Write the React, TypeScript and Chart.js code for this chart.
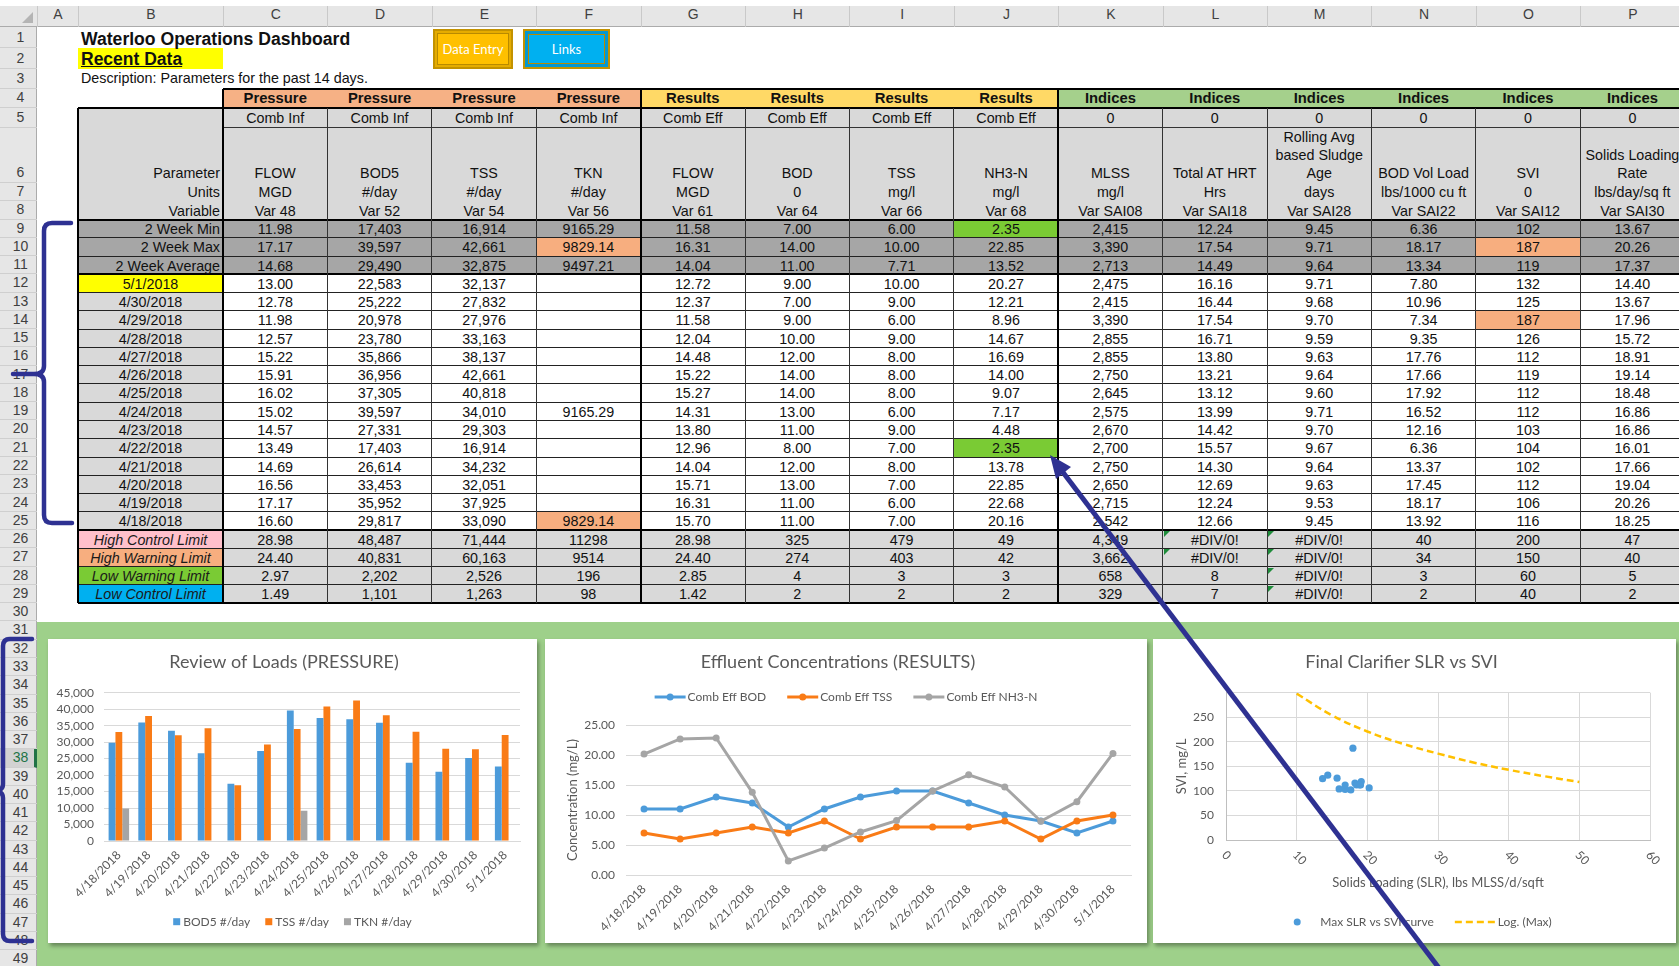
import React, { useEffect, useRef } from "react";
import { Chart, registerables } from "chart.js";

Chart.register(...registerables);

// ---------------- chart data ----------------
const dates = ["4/18/2018", "4/19/2018", "4/20/2018", "4/21/2018", "4/22/2018", "4/23/2018", "4/24/2018", "4/25/2018", "4/26/2018", "4/27/2018", "4/28/2018", "4/29/2018", "4/30/2018", "5/1/2018"];
const bod5Load = [29817, 35952, 33453, 26614, 17403, 27331, 39597, 37305, 36956, 35866, 23780, 20978, 25222, 22583];
const tssLoad = [33090, 37925, 32051, 34232, 16914, 29303, 34010, 40818, 42661, 38137, 33163, 27976, 27832, 32137];
const tknLoad = [9829.14, null, null, null, null, null, 9165.29, null, null, null, null, null, null, null];
const effBod = [11, 11, 13, 12, 8, 11, 13, 14, 14, 12, 10, 9, 7, 9];
const effTss = [7, 6, 7, 8, 7, 9, 6, 8, 8, 8, 9, 6, 9, 10];
const effNh3 = [20.16, 22.68, 22.85, 13.78, 2.35, 4.48, 7.17, 9.07, 14.0, 16.69, 14.67, 8.96, 12.21, 20.27];
const slrValues = [18.25, 20.26, 19.04, 17.66, 16.01, 16.86, 16.86, 18.48, 19.14, 18.91, 15.72, 17.96, 13.67, 14.4];
const sviValues = [116, 106, 112, 102, 104, 103, 112, 112, 119, 112, 126, 187, 125, 132];
const logTrendX = [10, 15, 20, 25, 30, 35, 40, 45, 50];
const logTrendY = [298, 254, 221, 196, 176, 158, 143, 130, 118];

// ---------------- table data ----------------
const columnLetters = ["A", "B", "C", "D", "E", "F", "G", "H", "I", "J", "K", "L", "M", "N", "O", "P"];
const bandLabels = ["Pressure", "Pressure", "Pressure", "Pressure", "Results", "Results", "Results", "Results", "Indices", "Indices", "Indices", "Indices", "Indices", "Indices"];
const subLabels = ["Comb Inf", "Comb Inf", "Comb Inf", "Comb Inf", "Comb Eff", "Comb Eff", "Comb Eff", "Comb Eff", "0", "0", "0", "0", "0", "0"];
const paramLines = [["FLOW"], ["BOD5"], ["TSS"], ["TKN"], ["FLOW"], ["BOD"], ["TSS"], ["NH3-N"], ["MLSS"], ["Total AT HRT"], ["Rolling Avg", "based Sludge", "Age"], ["BOD Vol Load"], ["SVI"], ["Solids Loading", "Rate"]];
const unitLabels = ["MGD", "#/day", "#/day", "#/day", "MGD", "0", "mg/l", "mg/l", "mg/l", "Hrs", "days", "lbs/1000 cu ft", "0", "lbs/day/sq ft"];
const varLabels = ["Var 48", "Var 52", "Var 54", "Var 56", "Var 61", "Var 64", "Var 66", "Var 68", "Var SAI08", "Var SAI18", "Var SAI28", "Var SAI22", "Var SAI12", "Var SAI30"];
const summaryLabels = ["2 Week Min", "2 Week Max", "2 Week Average"];
const summaryRows = [
  ["11.98", "17,403", "16,914", "9165.29", "11.58", "7.00", "6.00", "2.35", "2,415", "12.24", "9.45", "6.36", "102", "13.67"],
  ["17.17", "39,597", "42,661", "9829.14", "16.31", "14.00", "10.00", "22.85", "3,390", "17.54", "9.71", "18.17", "187", "20.26"],
  ["14.68", "29,490", "32,875", "9497.21", "14.04", "11.00", "7.71", "13.52", "2,713", "14.49", "9.64", "13.34", "119", "17.37"],
];
const dayLabels = ["5/1/2018", "4/30/2018", "4/29/2018", "4/28/2018", "4/27/2018", "4/26/2018", "4/25/2018", "4/24/2018", "4/23/2018", "4/22/2018", "4/21/2018", "4/20/2018", "4/19/2018", "4/18/2018"];
const dayRows = [
  ["13.00", "22,583", "32,137", "", "12.72", "9.00", "10.00", "20.27", "2,475", "16.16", "9.71", "7.80", "132", "14.40"],
  ["12.78", "25,222", "27,832", "", "12.37", "7.00", "9.00", "12.21", "2,415", "16.44", "9.68", "10.96", "125", "13.67"],
  ["11.98", "20,978", "27,976", "", "11.58", "9.00", "6.00", "8.96", "3,390", "17.54", "9.70", "7.34", "187", "17.96"],
  ["12.57", "23,780", "33,163", "", "12.04", "10.00", "9.00", "14.67", "2,855", "16.71", "9.59", "9.35", "126", "15.72"],
  ["15.22", "35,866", "38,137", "", "14.48", "12.00", "8.00", "16.69", "2,855", "13.80", "9.63", "17.76", "112", "18.91"],
  ["15.91", "36,956", "42,661", "", "15.22", "14.00", "8.00", "14.00", "2,750", "13.21", "9.64", "17.66", "119", "19.14"],
  ["16.02", "37,305", "40,818", "", "15.27", "14.00", "8.00", "9.07", "2,645", "13.12", "9.60", "17.92", "112", "18.48"],
  ["15.02", "39,597", "34,010", "9165.29", "14.31", "13.00", "6.00", "7.17", "2,575", "13.99", "9.71", "16.52", "112", "16.86"],
  ["14.57", "27,331", "29,303", "", "13.80", "11.00", "9.00", "4.48", "2,670", "14.42", "9.70", "12.16", "103", "16.86"],
  ["13.49", "17,403", "16,914", "", "12.96", "8.00", "7.00", "2.35", "2,700", "15.57", "9.67", "6.36", "104", "16.01"],
  ["14.69", "26,614", "34,232", "", "14.04", "12.00", "8.00", "13.78", "2,750", "14.30", "9.64", "13.37", "102", "17.66"],
  ["16.56", "33,453", "32,051", "", "15.71", "13.00", "7.00", "22.85", "2,650", "12.69", "9.63", "17.45", "112", "19.04"],
  ["17.17", "35,952", "37,925", "", "16.31", "11.00", "6.00", "22.68", "2,715", "12.24", "9.53", "18.17", "106", "20.26"],
  ["16.60", "29,817", "33,090", "9829.14", "15.70", "11.00", "7.00", "20.16", "2,542", "12.66", "9.45", "13.92", "116", "18.25"],
];
const limitLabels = ["High Control Limit", "High Warning Limit", "Low Warning Limit", "Low Control Limit"];
const limitRows = [
  ["28.98", "48,487", "71,444", "11298", "28.98", "325", "479", "49", "4,349", "#DIV/0!", "#DIV/0!", "40", "200", "47"],
  ["24.40", "40,831", "60,163", "9514", "24.40", "274", "403", "42", "3,662", "#DIV/0!", "#DIV/0!", "34", "150", "40"],
  ["2.97", "2,202", "2,526", "196", "2.85", "4", "3", "3", "658", "8", "#DIV/0!", "3", "60", "5"],
  ["1.49", "1,101", "1,263", "98", "1.42", "2", "2", "2", "329", "7", "#DIV/0!", "2", "40", "2"],
];

// ---------------- styling ----------------
const FONT = "Lato, 'Open Sans', 'Noto Sans', sans-serif";
const SHEET_FONT = "'Liberation Sans', Arial, Helvetica, sans-serif";
const TXT = "#595959";
const BLUE = "#4C9BDA";
const ORANGE = "#F97B16";
const GRAY = "#A5A5A5";
const GOLD = "#FFC000";
const GRID = "#D9D9D9";
const PRESSURE_BG = "#F6B185";
const RESULTS_BG = "#FFD966";
const INDICES_BG = "#A5D08C";
const HILITE_ORANGE = "#F7AE7F";
const HILITE_GREEN = "#7ACB34";
const PANEL_GREEN = "#9ED08A";
const NAVY = "#2E3192";

Chart.defaults.font.family = FONT;
Chart.defaults.color = TXT;

// ---------------- layout helpers ----------------
const RT: number[] = (() => {
  const t = [0, 27, 47.5, 68.5, 88.5, 108, 127.5, 182.5, 201, 219.5];
  for (let n = 10; n <= 51; n++) t[n] = 219.5 + (n - 9) * 18.27;
  return t;
})();
const cl = (k: number) => (k === 0 ? 37 : k === 1 ? 78 : 223 + (k - 2) * 104.4);

type LegendItem = { label: string; color: string; kind: "box" | "lineMarker" | "marker" | "dash" };
function makeLegend(cfg: { y: number; size: number; symbolW: number; gap: number; itemGap: number; items: LegendItem[] }) {
  return {
    id: "sheetLegend",
    afterDraw(chart: any) {
      const ctx = chart.ctx;
      ctx.save();
      ctx.font = `${cfg.size}px ${FONT}`;
      const widths = cfg.items.map((it) => cfg.symbolW + cfg.gap + ctx.measureText(it.label).width);
      const total = widths.reduce((a, b) => a + b, 0) + cfg.itemGap * (cfg.items.length - 1);
      let x = chart.width / 2 - total / 2;
      const y = cfg.y;
      cfg.items.forEach((it, i) => {
        ctx.fillStyle = it.color;
        ctx.strokeStyle = it.color;
        if (it.kind === "box") {
          ctx.fillRect(x, y - 3.5, cfg.symbolW, 7);
        } else if (it.kind === "lineMarker") {
          ctx.lineWidth = 3;
          ctx.beginPath();
          ctx.moveTo(x, y);
          ctx.lineTo(x + cfg.symbolW, y);
          ctx.stroke();
          ctx.beginPath();
          ctx.arc(x + cfg.symbolW / 2, y, 3.5, 0, Math.PI * 2);
          ctx.fill();
        } else if (it.kind === "marker") {
          ctx.beginPath();
          ctx.arc(x + cfg.symbolW / 2, y, 3.5, 0, Math.PI * 2);
          ctx.fill();
        } else {
          ctx.lineWidth = 2.5;
          ctx.setLineDash([7, 4]);
          ctx.beginPath();
          ctx.moveTo(x, y);
          ctx.lineTo(x + cfg.symbolW, y);
          ctx.stroke();
          ctx.setLineDash([]);
        }
        ctx.fillStyle = TXT;
        ctx.textAlign = "left";
        ctx.textBaseline = "middle";
        ctx.fillText(it.label, x + cfg.symbolW + cfg.gap, y + 0.5);
        x += widths[i] + cfg.itemGap;
      });
      ctx.restore();
    },
  };
}

const rotatedXLabels = {
  id: "rotatedXLabels",
  afterDraw(chart: any) {
    const s = chart.scales.x;
    const ctx = chart.ctx;
    ctx.save();
    ctx.fillStyle = TXT;
    ctx.font = `12px ${FONT}`;
    ctx.textAlign = "left";
    ctx.textBaseline = "middle";
    s.ticks.forEach((t: any) => {
      const px = s.getPixelForValue(t.value);
      ctx.save();
      ctx.translate(px - 2, s.top + 13);
      ctx.rotate(Math.PI / 4);
      ctx.fillText(String(t.value), 0, 0);
      ctx.restore();
    });
    ctx.restore();
  },
};

const titleOpts = (text: string, bottom: number) => ({
  display: true,
  text,
  color: TXT,
  font: { family: FONT, size: 18, weight: "normal" as const },
  padding: { top: 12.5, bottom },
});

function buildLoads(canvas: HTMLCanvasElement) {
  return new Chart(canvas, {
    type: "bar",
    data: {
      labels: dates,
      datasets: [
        { label: "BOD5 #/day", data: bod5Load, backgroundColor: BLUE, categoryPercentage: 0.69, barPercentage: 1 },
        { label: "TSS #/day", data: tssLoad, backgroundColor: ORANGE, categoryPercentage: 0.69, barPercentage: 1 },
        { label: "TKN #/day", data: tknLoad as any, backgroundColor: GRAY, categoryPercentage: 0.69, barPercentage: 1 },
      ],
    },
    options: {
      animation: false,
      responsive: false,
      layout: { padding: { left: 0, right: 17, top: 0, bottom: 32 } },
      plugins: {
        legend: { display: false },
        tooltip: { enabled: false },
        title: titleOpts("Review of Loads (PRESSURE)", 19.6),
      },
      scales: {
        x: {
          grid: { display: false, drawTicks: false },
          border: { display: true, color: GRID },
          ticks: { color: TXT, font: { family: FONT, size: 12 }, minRotation: 45, maxRotation: 45, autoSkip: false, padding: 7 },
          afterFit: (s: any) => { s.height = 70; },
        },
        y: {
          min: 0,
          max: 45000,
          grid: { color: GRID, drawTicks: false },
          border: { display: false },
          ticks: { stepSize: 5000, autoSkip: false, color: TXT, font: { family: FONT, size: 12 }, padding: 10, callback: (v: any) => Number(v).toLocaleString("en-US") },
          afterFit: (s: any) => { s.width = 56; },
        },
      },
    } as any,
    plugins: [
      makeLegend({
        y: 282.7, size: 12, symbolW: 7, gap: 3, itemGap: 15,
        items: [
          { label: "BOD5 #/day", color: BLUE, kind: "box" },
          { label: "TSS #/day", color: ORANGE, kind: "box" },
          { label: "TKN #/day", color: GRAY, kind: "box" },
        ],
      }),
    ],
  });
}

function buildEffluent(canvas: HTMLCanvasElement) {
  const line = (label: string, data: number[], color: string, order: number) => ({
    label, data, borderColor: color, backgroundColor: color, borderWidth: 3,
    pointRadius: 3.5, pointBackgroundColor: color, pointBorderWidth: 0, tension: 0, order,
  });
  return new Chart(canvas, {
    type: "line",
    data: {
      labels: dates,
      datasets: [
        line("Comb Eff BOD", effBod, BLUE, 3),
        line("Comb Eff TSS", effTss, ORANGE, 2),
        line("Comb Eff NH3-N", effNh3, GRAY, 1),
      ],
    },
    options: {
      animation: false,
      responsive: false,
      layout: { padding: { left: 0, right: 16, top: 0, bottom: 0 } },
      plugins: {
        legend: { display: false },
        tooltip: { enabled: false },
        title: titleOpts("Effluent Concentrations (RESULTS)", 51.9),
      },
      scales: {
        x: {
          offset: true,
          grid: { display: false, drawTicks: false, offset: true },
          border: { display: true, color: GRID },
          ticks: { color: TXT, font: { family: FONT, size: 12 }, minRotation: 45, maxRotation: 45, autoSkip: false, padding: 7 },
          afterFit: (s: any) => { s.height = 68; },
        },
        y: {
          min: 0,
          max: 25,
          grid: { color: GRID, drawTicks: false },
          border: { display: false },
          ticks: { stepSize: 5, autoSkip: false, color: TXT, font: { family: FONT, size: 12 }, padding: 11, callback: (v: any) => Number(v).toFixed(2) },
          title: { display: true, text: "Concentration (mg/L)", color: TXT, font: { family: FONT, size: 13 }, padding: { top: 20, bottom: 0 } },
          afterFit: (s: any) => { s.width = 81; },
        },
      },
    } as any,
    plugins: [
      makeLegend({
        y: 58, size: 12, symbolW: 31, gap: 2, itemGap: 21,
        items: [
          { label: "Comb Eff BOD", color: BLUE, kind: "lineMarker" },
          { label: "Comb Eff TSS", color: ORANGE, kind: "lineMarker" },
          { label: "Comb Eff NH3-N", color: GRAY, kind: "lineMarker" },
        ],
      }),
    ],
  });
}

function buildClarifier(canvas: HTMLCanvasElement) {
  const points = slrValues.map((x, i) => ({ x, y: sviValues[i] }));
  const trend = logTrendX.map((x, i) => ({ x, y: logTrendY[i] }));
  return new Chart(canvas, {
    type: "scatter",
    data: {
      datasets: [
        { label: "Max SLR vs SVI curve", data: points, pointRadius: 3.6, pointBackgroundColor: BLUE, pointBorderWidth: 0, showLine: false, order: 1 },
        { label: "Log. (Max)", data: trend, showLine: true, borderColor: GOLD, borderWidth: 2.5, borderDash: [7, 4], pointRadius: 0, tension: 0.4, order: 2 },
      ],
    },
    options: {
      animation: false,
      responsive: false,
      layout: { padding: { left: 0, right: 26, top: 0, bottom: 40 } },
      plugins: {
        legend: { display: false },
        tooltip: { enabled: false },
        title: titleOpts("Final Clarifier SLR vs SVI", 19.6),
      },
      scales: {
        x: {
          type: "linear",
          min: 0,
          max: 60,
          grid: { color: GRID, drawTicks: false },
          border: { display: true, color: "#BFBFBF" },
          ticks: { stepSize: 10, display: false },
          title: { display: true, text: "Solids Loading (SLR), lbs MLSS/d/sqft", color: TXT, font: { family: FONT, size: 13 }, padding: { top: 0, bottom: 12 } },
          afterFit: (s: any) => { s.height = 63; },
        },
        y: {
          min: 0,
          max: 300,
          grid: { color: GRID, drawTicks: false },
          border: { display: true, color: "#BFBFBF" },
          ticks: { stepSize: 50, autoSkip: false, color: TXT, font: { family: FONT, size: 12 }, padding: 12, callback: (v: any) => (Number(v) >= 300 ? "" : String(v)) },
          title: { display: true, text: "SVI, mg/L", color: TXT, font: { family: FONT, size: 13 }, padding: { top: 21, bottom: 0 } },
          afterFit: (s: any) => { s.width = 73; },
        },
      },
    } as any,
    plugins: [
      rotatedXLabels,
      makeLegend({
        y: 283, size: 12, symbolW: 40, gap: 3, itemGap: 21,
        items: [
          { label: "Max SLR vs SVI curve", color: BLUE, kind: "marker" },
          { label: "Log. (Max)", color: GOLD, kind: "dash" },
        ],
      }),
    ],
  });
}

function ChartBox({ left, top, width, height, build }: { left: number; top: number; width: number; height: number; build: (c: HTMLCanvasElement) => Chart }) {
  const ref = useRef<HTMLCanvasElement>(null);
  useEffect(() => {
    const chart = build(ref.current as HTMLCanvasElement);
    return () => chart.destroy();
  }, []);
  return (
    <div style={{ position: "absolute", left, top, width, height, background: "#fff", boxShadow: "2px 3px 4px rgba(0,0,0,0.35)" }}>
      <canvas ref={ref} width={width} height={height} style={{ display: "block", width, height }} />
    </div>
  );
}

function Sheet() {
  const els: any[] = [];
  let key = 0;
  const box = (x: number, y: number, w: number, h: number, style: any, content?: any) =>
    els.push(
      <div key={key++} style={{ position: "absolute", left: x, top: y, width: w, height: h, boxSizing: "border-box", ...style }}>
        {content}
      </div>
    );
  const fill = (k1: number, k2: number, r1: number, r2: number, color: string) =>
    box(cl(k1), RT[r1], cl(k2 + 1) - cl(k1), RT[r2 + 1] - RT[r1], { background: color });
  const hline = (x1: number, x2: number, y: number, t: number, c = "#000") => box(x1, y - t / 2, x2 - x1, t, { background: c });
  const vline = (x: number, y1: number, y2: number, t: number, c = "#000") => box(x - t / 2, y1, t, y2 - y1, { background: c });
  const textAt = (x: number, w: number, y: number, h: number, str: string, opts: any = {}) =>
    box(x, y + 1.5, w, h, {
      lineHeight: h + "px",
      textAlign: opts.align || "center",
      paddingLeft: opts.align === "left" ? 3 : 0,
      paddingRight: opts.align === "right" ? 3 : 0,
      whiteSpace: "nowrap",
      font: `${opts.italic ? "italic " : ""}${opts.bold ? "bold " : ""}${opts.size || 14.3}px ${SHEET_FONT}`,
      color: opts.color || "#111",
      textDecoration: opts.underline ? "underline" : "none",
      overflow: "visible",
    }, str);
  const text = (k: number, r: number, str: string, opts: any = {}) => {
    const x = cl(k);
    const w = cl(k + 1) - x;
    const y = RT[r];
    const h = RT[r + 1] - y;
    textAt(x, w, y, h, str, opts);
  };

  // column header strip
  box(0, 6, 1679, 21, { background: "#E6E6E6", borderBottom: "1px solid #ABABAB" });
  for (let k = 0; k < columnLetters.length; k++) {
    const x = cl(k);
    box(x, 6, cl(k + 1) - x, 21, { textAlign: "center", lineHeight: "21px", font: `14px ${SHEET_FONT}`, color: "#3F3F3F", borderLeft: "1px solid #C9C9C9" }, columnLetters[k]);
  }
  els.push(
    <div key={key++} style={{ position: "absolute", left: 22, top: 12, width: 0, height: 0, borderLeft: "11px solid transparent", borderBottom: "11px solid #B4B4B4" }} />
  );
  // row header strip
  box(0, 27, 37, 939, { background: "#E6E6E6", borderRight: "1px solid #ABABAB" });
  for (let r = 1; r <= 49; r++) {
    const y = RT[r];
    const h = RT[r + 1] - y;
    const sel = r === 38;
    box(0, y, 37, h, {
      background: sel ? "#D2D2D2" : "transparent",
      borderBottom: "1px solid #CFCFCF", borderRight: sel ? "3px solid #217346" : "none",
    });
    const lh = Math.min(h, 19);
    box(0, y + h - lh, 37, lh, {
      textAlign: "center", lineHeight: lh + "px", paddingLeft: 4, font: `14px ${SHEET_FONT}`,
      color: sel ? "#217346" : "#3F3F3F",
    }, String(r));
  }

  // green panel
  box(37, 622, 1679 - 37, 966 - 622, { background: PANEL_GREEN });

  // title area
  fill(1, 1, 2, 2, "#FFFF00");
  text(1, 1, "Waterloo Operations Dashboard", { align: "left", bold: true, size: 17.6 });
  text(1, 2, "Recent Data", { align: "left", bold: true, size: 17.5, underline: true });
  text(1, 3, "Description: Parameters for the past 14 days.", { align: "left" });

  // buttons
  els.push(
    <div key={key++} style={{ position: "absolute", left: 433, top: 29, width: 80, height: 40, boxSizing: "border-box", background: "#FFC000", border: "2px solid #C39200", boxShadow: "inset 0 0 0 2px #E5AC00, inset 0 0 0 3px #B88A00", color: "#fff", font: `13px ${FONT}`, display: "flex", alignItems: "center", justifyContent: "center" }}>Data Entry</div>
  );
  els.push(
    <div key={key++} style={{ position: "absolute", left: 523, top: 29, width: 87, height: 40, boxSizing: "border-box", background: "#00B0F0", border: "2px solid #C39200", boxShadow: "inset 0 0 0 3px #0598CF, inset 0 0 0 4px #B88A00", color: "#fff", font: `13px ${FONT}`, display: "flex", alignItems: "center", justifyContent: "center" }}>Links</div>
  );

  // backgrounds
  for (let i = 0; i < 14; i++) {
    const k = i + 2;
    fill(k, k, 4, 4, i < 4 ? PRESSURE_BG : i < 8 ? RESULTS_BG : INDICES_BG);
  }
  fill(1, 15, 5, 8, "#D9D9D9");
  fill(1, 15, 9, 11, "#A6A6A6");
  fill(1, 1, 12, 25, "#D9D9D9");
  fill(1, 1, 12, 12, "#FFFF00");
  fill(2, 15, 12, 25, "#FFFFFF");
  fill(2, 15, 26, 29, "#D9D9D9");
  const limitColors = ["#FFC0CB", HILITE_ORANGE, HILITE_GREEN, "#00B0F0"];
  limitColors.forEach((c, i) => fill(1, 1, 26 + i, 26 + i, c));
  const highlights = [
    { r: 10, i: 3, c: HILITE_ORANGE }, { r: 9, i: 7, c: HILITE_GREEN }, { r: 10, i: 12, c: HILITE_ORANGE },
    { r: 25, i: 3, c: HILITE_ORANGE }, { r: 21, i: 7, c: HILITE_GREEN }, { r: 14, i: 12, c: HILITE_ORANGE },
  ];
  highlights.forEach((h) => fill(h.i + 2, h.i + 2, h.r, h.r, h.c));

  // lines
  const xEnd = cl(16);
  hline(cl(2), xEnd, RT[4], 2);
  hline(cl(1), xEnd, RT[5], 2);
  hline(cl(2), xEnd, RT[6], 1.5, "#333");
  hline(cl(1), xEnd, RT[9], 2);
  hline(cl(1), xEnd, RT[10], 1, "#222");
  hline(cl(1), xEnd, RT[11], 1, "#222");
  hline(cl(1), xEnd, RT[12], 2);
  for (let r = 13; r <= 25; r++) hline(cl(1), xEnd, RT[r], 1, "#222");
  hline(cl(1), xEnd, RT[26], 2);
  for (let r = 27; r <= 29; r++) hline(cl(1), xEnd, RT[r], 1, "#222");
  hline(cl(1), xEnd, RT[30], 2);
  vline(cl(1), RT[5], RT[30], 2);
  [2, 6, 10].forEach((k) => vline(cl(k), RT[4], RT[30], 2));
  [3, 4, 5, 7, 8, 9, 11, 12, 13, 14, 15].forEach((k) => vline(cl(k), RT[5], RT[30], 1, "#333"));

  // header texts
  const LH = 18.2;
  for (let i = 0; i < 14; i++) {
    const k = i + 2;
    text(k, 4, bandLabels[i], { bold: true, size: 14.8 });
    text(k, 5, subLabels[i]);
    const lines = paramLines[i];
    const x = cl(k);
    const w = cl(k + 1) - x;
    lines.forEach((ln, j) => {
      const y = RT[7] - (lines.length - j) * LH;
      textAt(x, w, y - 0.5, LH, ln);
    });
    text(k, 7, unitLabels[i]);
    text(k, 8, varLabels[i]);
  }
  textAt(cl(1), cl(2) - cl(1), RT[7] - LH - 0.5, LH, "Parameter", { align: "right" });
  text(1, 7, "Units", { align: "right" });
  text(1, 8, "Variable", { align: "right" });

  summaryLabels.forEach((lab, j) => {
    text(1, 9 + j, lab, { align: "right" });
    summaryRows[j].forEach((v, i) => text(i + 2, 9 + j, v));
  });
  dayLabels.forEach((lab, j) => {
    text(1, 12 + j, lab);
    dayRows[j].forEach((v, i) => text(i + 2, 12 + j, v));
  });
  limitLabels.forEach((lab, j) => {
    text(1, 26 + j, lab, { italic: true, color: "#1a1a1a" });
    limitRows[j].forEach((v, i) => text(i + 2, 26 + j, v));
  });
  // error indicator triangles
  [[26, 11], [27, 11], [26, 12], [27, 12], [28, 12], [29, 12]].forEach(([r, k]) => {
    els.push(
      <div key={key++} style={{ position: "absolute", left: cl(k) + 1, top: RT[r] + 1, width: 0, height: 0, borderTop: "6px solid #1E8C3A", borderRight: "6px solid transparent" }} />
    );
  });

  return <>{els}</>;
}

export default function App() {
  return (
    <div style={{ position: "fixed", left: 0, top: 0, width: 1679, height: 966, overflow: "hidden", background: "#fff" }}>
      <Sheet />
      <ChartBox left={48} top={639} width={489} height={304} build={buildLoads} />
      <ChartBox left={545} top={639} width={602} height={304} build={buildEffluent} />
      <ChartBox left={1153} top={639} width={523} height={304} build={buildClarifier} />
      <svg width={1679} height={966} style={{ position: "absolute", left: 0, top: 0, pointerEvents: "none" }}>
        <path d="M71,223 L52,223 Q44,223 44,231 L44,366 Q44,374 34,374 L13,374 M34,374 Q44,374 44,382 L44,515 Q44,523 52,523 L72,523" stroke={NAVY} strokeWidth={4.5} fill="none" strokeLinecap="round" strokeLinejoin="round" />
        <path d="M32,639 L10,639 Q3,639 3,646 L3,784 Q3,791 -6,791 M-6,791 Q3,791 3,798 L3,934 Q3,941 10,941 L32,941" stroke={NAVY} strokeWidth={4.5} fill="none" strokeLinecap="round" strokeLinejoin="round" />
        <line x1={1442} y1={972} x2={1062} y2={471} stroke={NAVY} strokeWidth={5} />
        <polygon points="1050,455 1071,467 1056,479" fill={NAVY} />
      </svg>
    </div>
  );
}
